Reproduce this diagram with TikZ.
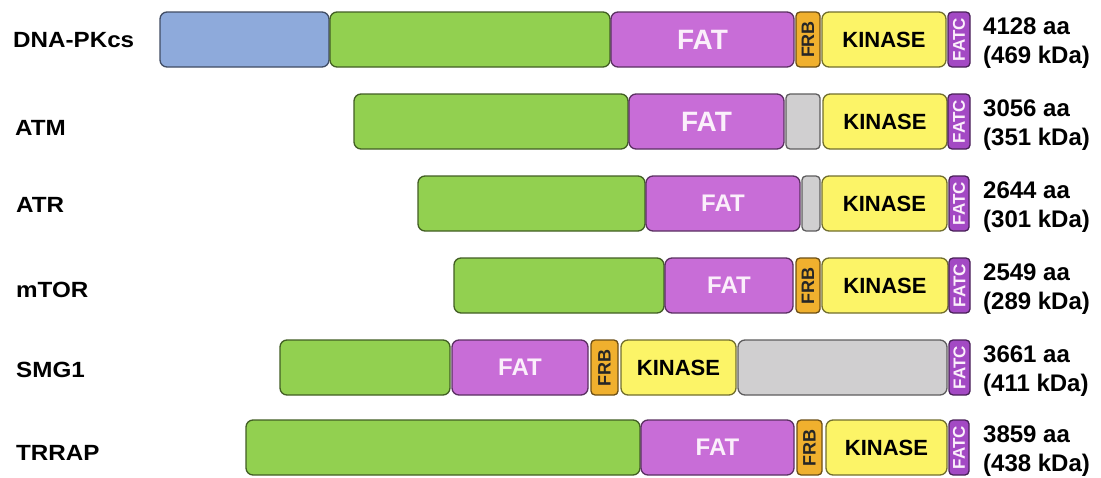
\documentclass[tikz,border=0pt]{standalone}
\usepackage{fontspec}
\usepackage{graphicx}
\setmainfont{Liberation Sans}
\newfontfamily\widesans{Liberation Sans}[FakeStretch=1.1]
\definecolor{cblue}{HTML}{8EAADB}
\definecolor{cgreen}{HTML}{92D050}
\definecolor{cfat}{HTML}{C86DD7}
\definecolor{cfrb}{HTML}{F0B02E}
\definecolor{ckin}{HTML}{FCF467}
\definecolor{cgray}{HTML}{D0CFD0}
\definecolor{cfatc}{HTML}{A349C4}
\definecolor{cfattext}{HTML}{FBEFFB}
\tikzset{
  dom/.style={draw=#1!45!black, fill=#1, line width=1.3pt, rounded corners=7pt,
              inner sep=0pt, outer sep=0pt},
  smalldom/.style={dom=#1, rounded corners=4pt},
  bluedom/.style={dom=cblue},
  greendom/.style={dom=cgreen},
  graydom/.style={dom=cgray},
  fatdom/.style={dom=cfat, text=cfattext, font=\bfseries\fontsize{28}{30}\selectfont},
  fatsdom/.style={dom=cfat, text=cfattext, font=\bfseries\fontsize{24}{26}\selectfont},
  kindom/.style={dom=ckin, text=black, font=\bfseries\fontsize{22}{24}\selectfont},
  frbdom/.style={smalldom=cfrb, text=black!85, font=\bfseries\fontsize{18}{19}\selectfont},
  graysdom/.style={smalldom=cgray},
  fatcdom/.style={smalldom=cfatc, text=cfattext, font=\bfseries\fontsize{17}{18}\selectfont},
  protname/.style={anchor=west, inner sep=0pt, font=\widesans\bfseries\fontsize{22}{24}\selectfont},
  sizetext/.style={anchor=base west, inner sep=0pt, font=\bfseries\fontsize{24}{26}\selectfont}
}
% #1 name, #2 style, #3 x1, #4 x2, #5 y1, #6 y2, #7 text
\newcommand{\pdom}[7]{\node[#2, minimum width={#4-#3}, minimum height={#6-#5}] (#1) at ({(#3+#4)/2},{(#5+#6)/2}) {#7};}
\newcommand{\psize}[4]{%
  \node[sizetext] (#1a) at (983,{#2+22}) {#3};
  \node[sizetext] (#1b) at (983,{#2+51}) {#4};}
\begin{document}
\begin{tikzpicture}[x=1pt,y=-1pt]
\useasboundingbox (0,0) rectangle (1101,477);
% Row 1: DNA-PKcs
\node[protname] (n1) at (13,40) {DNA-PKcs};
\pdom{r1a}{bluedom}{160}{329}{12}{67}{}
\pdom{r1b}{greendom}{330}{610}{12}{67}{}
\pdom{r1c}{fatdom}{611}{794}{12}{67}{FAT}
\pdom{r1d}{frbdom}{796}{820}{12}{67}{\rotatebox{90}{FRB}}
\pdom{r1e}{kindom}{822}{946}{12}{67}{KINASE}
\pdom{r1f}{fatcdom}{948}{970}{12}{67}{\rotatebox{90}{FATC}}
\psize{s1}{12}{4128 aa}{(469 kDa)}
% Row 2: ATM
\node[protname] (n2) at (15,128) {ATM};
\pdom{r2b}{greendom}{354}{628}{94}{149}{}
\pdom{r2c}{fatdom}{629}{784}{94}{149}{FAT}
\pdom{r2d}{graysdom}{786}{820}{94}{149}{}
\pdom{r2e}{kindom}{823}{947}{94}{149}{KINASE}
\pdom{r2f}{fatcdom}{948}{970}{94}{149}{\rotatebox{90}{FATC}}
\psize{s2}{94}{3056 aa}{(351 kDa)}
% Row 3: ATR
\node[protname] (n3) at (16,205) {ATR};
\pdom{r3b}{greendom}{418}{645}{176}{231}{}
\pdom{r3c}{fatsdom}{646}{800}{176}{231}{FAT}
\pdom{r3d}{graysdom}{802}{820}{176}{231}{}
\pdom{r3e}{kindom}{822}{947}{176}{231}{KINASE}
\pdom{r3f}{fatcdom}{949}{969}{176}{231}{\rotatebox{90}{FATC}}
\psize{s3}{176}{2644 aa}{(301 kDa)}
% Row 4: mTOR
\node[protname] (n4) at (16,290) {mTOR};
\pdom{r4b}{greendom}{454}{664}{258}{313}{}
\pdom{r4c}{fatsdom}{665}{793}{258}{313}{FAT}
\pdom{r4d}{frbdom}{796}{820}{258}{313}{\rotatebox{90}{FRB}}
\pdom{r4e}{kindom}{822}{948}{258}{313}{KINASE}
\pdom{r4f}{fatcdom}{949}{970}{258}{313}{\rotatebox{90}{FATC}}
\psize{s4}{258}{2549 aa}{(289 kDa)}
% Row 5: SMG1
\node[protname] (n5) at (16,370) {SMG1};
\pdom{r5b}{greendom}{280}{450}{340}{395}{}
\pdom{r5c}{fatsdom}{452}{588}{340}{395}{FAT}
\pdom{r5d}{frbdom}{591}{618}{340}{395}{\rotatebox{90}{FRB}}
\pdom{r5e}{kindom}{621}{736}{340}{395}{KINASE}
\pdom{r5g}{graydom}{738}{947}{340}{395}{}
\pdom{r5f}{fatcdom}{949}{970}{340}{395}{\rotatebox{90}{FATC}}
\psize{s5}{340}{3661 aa}{(411 kDa)}
% Row 6: TRRAP
\node[protname] (n6) at (16,453) {TRRAP};
\pdom{r6b}{greendom}{246}{640}{420}{475}{}
\pdom{r6c}{fatsdom}{641}{794}{420}{475}{FAT}
\pdom{r6d}{frbdom}{797}{822}{420}{475}{\rotatebox{90}{FRB}}
\pdom{r6e}{kindom}{826}{947}{420}{475}{KINASE}
\pdom{r6f}{fatcdom}{949}{969}{420}{475}{\rotatebox{90}{FATC}}
\psize{s6}{420}{3859 aa}{(438 kDa)}
\end{tikzpicture}
\end{document}
